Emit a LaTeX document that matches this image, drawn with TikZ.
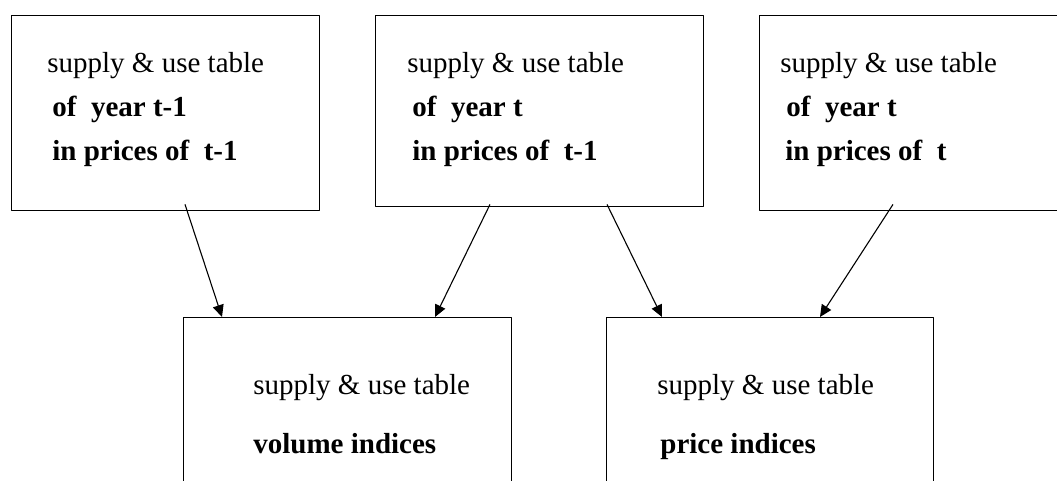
\documentclass[tikz,border=0pt]{standalone}
\usepackage{fontspec}
\setmainfont{Liberation Serif}
\usetikzlibrary{arrows.meta}

\begin{document}
\begin{tikzpicture}[x=.5pt, y=-.5pt, line join=round, >={Triangle[length=6pt,width=5.5pt]},
	tab/.style={draw, line width=.7pt, anchor=north west, inner sep=0pt},
	txt/.style={anchor=north west, align=left, inner sep=0pt, font=\fontsize{14.5}{22}\selectfont},
	link/.style={->, line width=.55pt}]
	\useasboundingbox (0,0) rectangle (1057,481);
	\clip (0,0) rectangle (1057,481);
	% the three tables of the two years
	\node[tab, minimum width=154pt, minimum height=97.5pt] (prev) at (11,15) {};
	\node[tab, minimum width=164pt, minimum height=95.5pt] (mixed) at (375,15) {};
	\node[tab, minimum width=164pt, minimum height=97.5pt] (cur) at (759,15) {};
	\node[txt] (prevtxt) at ([shift={(36,37)}]prev.north west)
		{supply \& use table\\\hspace*{2.5pt}\textbf{of\ \ year t-1}\\\hspace*{2.5pt}\textbf{in prices of\ \ t-1}};
	\node[txt] (mixedtxt) at ([shift={(32,37)}]mixed.north west)
		{supply \& use table\\\hspace*{2.5pt}\textbf{of\ \ year t}\\\hspace*{2.5pt}\textbf{in prices of\ \ t-1}};
	\node[txt] (curtxt) at ([shift={(21,37)}]cur.north west)
		{supply \& use table\\\hspace*{3pt}\textbf{of\ \ year t}\\\hspace*{2.5pt}\textbf{in prices of\ \ t}};
	% the two index tables
	\node[tab, minimum width=164pt, minimum height=97.5pt] (vol) at (183,317) {};
	\node[tab, minimum width=163.5pt, minimum height=97.5pt] (pri) at (606,317) {};
	\node[txt] (voltxt) at ([shift={(70,57)}]vol.north west)
		{supply \& use table\\[7.5pt]\textbf{volume indices}};
	\node[txt] (pritxt) at ([shift={(51,57)}]pri.north west)
		{supply \& use table\\[7.5pt]\hspace*{1.5pt}\textbf{price indices}};
	% arrows
	\draw[link] ([shift={(174,-7)}]prev.south west) -- ([shift={(39,0)}]vol.north west);
	\draw[link] ([shift={(115,-3)}]mixed.south west) -- ([shift={(252,0)}]vol.north west);
	\draw[link] ([shift={(232,-3)}]mixed.south west) -- ([shift={(56,0)}]pri.north west);
	\draw[link] ([shift={(134,-7)}]cur.south west) -- ([shift={(214,0)}]pri.north west);
\end{tikzpicture}
\end{document}
